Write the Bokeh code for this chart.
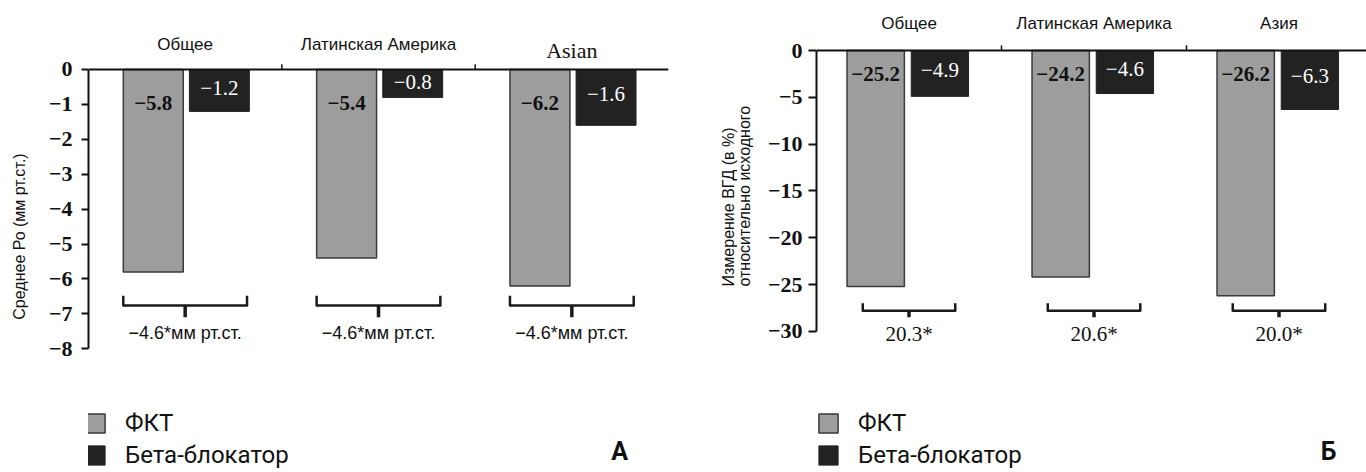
import numpy as np
from bokeh.plotting import figure
from bokeh.layouts import row
from bokeh.models import (Range1d, FixedTicker, Span, Label, Legend, LegendItem,
                          ColumnDataSource, CustomJSTickFormatter, Title)
from bokeh.core.properties import value
from bokeh.embed import file_html
from bokeh.resources import INLINE

# ---------------- data ----------------
cats_a = ["Общее", "Латинская Америка", "Asian"]
fkt_a = [-5.8, -5.4, -6.2]
bb_a = [-1.2, -0.8, -1.6]
diff_a = ["−4.6*мм рт.ст.", "−4.6*мм рт.ст.", "−4.6*мм рт.ст."]
yticks_a = [0, -1, -2, -3, -4, -5, -6, -7, -8]

cats_b = ["Общее", "Латинская Америка", "Азия"]
fkt_b = [-25.2, -24.2, -26.2]
bb_b = [-4.9, -4.6, -6.3]
diff_b = ["20.3*", "20.6*", "20.0*"]
yticks_b = [0, -5, -10, -15, -20, -25, -30]

legend_labels = ["ФКТ", "Бета-блокатор"]
ylabel_a = "Среднее Ро (мм рт.ст.)"
ylabel_b = ["Измерение ВГД (в %)", "относительно исходного"]

GRAY = "#9d9d9d"
EDGE = "#3a3a3a"
DARK = "#222222"
SERIF = "Liberation Serif"
SANS = "Liberation Sans"


def fmt(v):
    return ("−" if v < 0 else "") + f"{abs(v):.1f}"


def make_panel(cats, fkt, bb, diffs, yticks, *, width, border_left, border_right,
               x_end, y_range, off_g, off_b, bw, cat_y, cat_fonts, cat_sizes,
               gray_lab_y, br_half, br_top, br_mid, br_bot, diff_y, diff_font,
               diff_size, tick_up, axis_label, axis_label_standoff, label_standoff,
               tick_out, legend_x, letter, letter_xy):
    p = figure(width=width, height=472, x_range=Range1d(0, x_end),
               y_range=Range1d(*y_range), output_backend="svg",
               toolbar_location=None, x_axis_location=None,
               min_border_left=border_left, min_border_right=border_right,
               min_border_top=0, min_border_bottom=0, outline_line_color=None)
    p.grid.visible = False

    n = len(cats)
    centers = np.arange(n) + 0.5
    xg = centers + off_g
    xb = centers + off_b

    # axis
    ax = p.yaxis[0]
    ax.ticker = FixedTicker(ticks=yticks)
    ax.bounds = (min(yticks), 0)
    ax.formatter = CustomJSTickFormatter(
        code="return tick < 0 ? '\u2212' + Math.abs(tick) : String(tick);")
    ax.major_label_text_font = "serif"
    ax.major_label_text_font_size = "22px"
    ax.major_label_text_font_style = "bold"
    ax.major_label_text_color = "#111111"
    ax.major_label_standoff = label_standoff
    ax.major_tick_out = tick_out
    ax.major_tick_in = 0
    ax.minor_tick_out = 0
    ax.minor_tick_in = 0
    ax.axis_line_width = 2
    ax.major_tick_line_width = 2
    ax.axis_line_color = "#111111"
    ax.major_tick_line_color = "#111111"
    if axis_label:
        ax.axis_label = axis_label
        ax.axis_label_text_font = SANS
        ax.axis_label_text_font_size = "16px"
        ax.axis_label_text_font_style = "normal"
        ax.axis_label_text_color = "#111111"
        ax.axis_label_standoff = axis_label_standoff

    # top zero line and category separators
    p.add_layout(Span(location=0, dimension="width", line_color="#111111", line_width=2))
    bounds_x = list(np.arange(1, n))
    p.segment(x0=bounds_x, y0=[0] * len(bounds_x), x1=bounds_x,
              y1=[tick_up] * len(bounds_x), line_color="#111111", line_width=1.5)

    # bars
    rg = p.vbar(x=xg, top=fkt, bottom=0, width=bw, fill_color=GRAY,
                line_color=EDGE, line_width=1.5)
    rb = p.vbar(x=xb, top=bb, bottom=0, width=bw, fill_color=DARK,
                line_color=DARK, line_width=1)

    # value labels
    p.text(x=xg, y=[gray_lab_y] * n, text=[fmt(v) for v in fkt],
           text_font=value(SERIF), text_font_style="bold", text_font_size="21px",
           text_color="#111111", text_align="center", text_baseline="middle")
    p.text(x=xb, y=[v * 0.43 for v in bb], text=[fmt(v) for v in bb],
           text_font=value(SERIF), text_font_size="21px",
           text_color="white", text_align="center", text_baseline="middle")

    # category labels above
    src = ColumnDataSource(dict(x=centers, y=cat_y, text=cats, font=cat_fonts,
                                size=cat_sizes))
    p.text(x="x", y="y", text="text", text_font="font", text_font_size="size",
           source=src, text_color="#111111", text_align="center",
           text_baseline="middle")

    # brackets
    xs = [[c - br_half, c - br_half, c + br_half, c + br_half] for c in centers]
    ys = [[br_top, br_mid, br_mid, br_top] for _ in centers]
    p.multi_line(xs=xs, ys=ys, line_color="#1a1a1a", line_width=2.5,
                 line_join="round")
    p.segment(x0=centers, y0=[br_mid] * n, x1=centers, y1=[br_bot] * n,
              line_color="#1a1a1a", line_width=3.5)
    p.text(x=centers, y=[diff_y] * n, text=diffs, text_font=value(diff_font),
           text_font_size=diff_size, text_color="#111111", text_align="center",
           text_baseline="middle")

    # legend
    legend = Legend(items=[LegendItem(label=legend_labels[0], renderers=[rg]),
                           LegendItem(label=legend_labels[1], renderers=[rb])],
                    location=(legend_x, 3), orientation="vertical",
                    glyph_width=24, glyph_height=24, label_text_font="Roboto",
                    label_text_font_size="24px", label_standoff=18, spacing=4,
                    padding=0, margin=0, border_line_color=None,
                    background_fill_alpha=0, label_text_color="#111111")
    p.add_layout(legend)

    p.add_layout(Label(x=letter_xy[0], y=letter_xy[1], text=letter,
                       text_font="Roboto", text_font_style="bold",
                       text_font_size="25px", text_align="center",
                       text_baseline="middle", text_color="#111111"))
    return p


p1 = make_panel(
    cats_a, fkt_a, bb_a, diff_a, yticks_a,
    width=688, border_left=88, border_right=20, x_end=3.0,
    y_range=(-11.547, 1.977), off_g=-0.165, off_b=0.177, bw=0.31,
    cat_y=[0.716, 0.716, 0.545], cat_fonts=[SANS, SANS, SERIF],
    cat_sizes=["17px", "17px", "22px"], gray_lab_y=-0.97,
    br_half=0.32, br_top=-6.48, br_mid=-6.76, br_bot=-7.1, diff_y=-7.54,
    diff_font=SANS, diff_size="18px", tick_up=0.15,
    axis_label=ylabel_a, axis_label_standoff=18,
    label_standoff=9, tick_out=7, legend_x=-5, letter="А",
    letter_xy=(2.747, -10.95))

p2 = make_panel(
    cats_b, fkt_b, bb_b, diff_b, yticks_b,
    width=678, border_left=128, border_right=0, x_end=550 / 185,
    y_range=(-45.085, 5.342), off_g=-0.18, off_b=0.167, bw=0.31,
    cat_y=[2.88, 2.88, 2.88], cat_fonts=[SANS, SANS, SANS],
    cat_sizes=["17px", "17px", "17px"], gray_lab_y=-2.46,
    br_half=0.25, br_top=-27.0, br_mid=-27.8, br_bot=-28.5, diff_y=-30.34,
    diff_font=SERIF, diff_size="21px", tick_up=0.55,
    axis_label=None, axis_label_standoff=0,
    label_standoff=6, tick_out=8, legend_x=0, letter="Б",
    letter_xy=(2.768, -42.84))

# two-line y label of panel Б as a side title
p2.add_layout(Title(text=ylabel_b[0] + "\n" + ylabel_b[1], align="left",
                    offset=186, standoff=22, text_font=SANS,
                    text_font_size="16px", text_line_height=0.95,
                    text_font_style="normal", text_color="#111111"), "left")

layout = row(p1, p2)
open("out.html", "w").write(file_html(layout, INLINE))
